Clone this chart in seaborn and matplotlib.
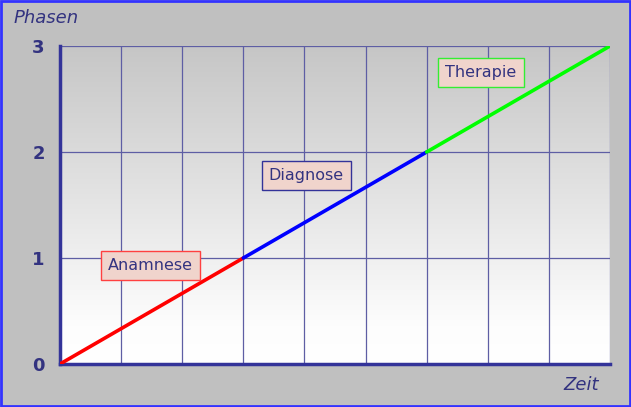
import numpy as np
import pandas as pd
import matplotlib
matplotlib.use("Agg")
import matplotlib.pyplot as plt
import seaborn as sns
from matplotlib.patches import Rectangle

# Phases: start/end time and start/end level
phases = ['Anamnese', 'Diagnose', 'Therapie']
phase_start = [0, 3, 6]
phase_end = [3, 6, 9]
level_start = [0, 1, 2]
level_end = [1, 2, 3]
phase_colors = ['#ff0000', '#0000ff', '#00ff00']
label_x = [1.48, 4.03, 6.89]
label_y = [0.93, 1.78, 2.75]
yticks = [0, 1, 2, 3]

rows = []
for p, x0, x1, y0, y1 in zip(phases, phase_start, phase_end, level_start, level_end):
    rows.append({'Zeit': x0, 'Phase': y0, 'Abschnitt': p})
    rows.append({'Zeit': x1, 'Phase': y1, 'Abschnitt': p})
df = pd.DataFrame(rows)

sns.set_style("white")
plt.rcParams['font.family'] = ['DejaVu Sans']
axis_col = '#333399'
text_col = '#333380'

fig = plt.figure(figsize=(6.31, 4.07), dpi=100, facecolor='#c0c0c0')
ax = fig.add_axes([60 / 631, 1 - 364 / 407, 550 / 631, 318 / 407])
ax.set_facecolor('#c0c0c0')

# gradient background of plot area (gray at top, white near bottom)
grad = np.linspace(0, 1, 256).reshape(-1, 1)
cmap = matplotlib.colors.LinearSegmentedColormap.from_list(
    'g', [(0, '#ffffff'), (0.12, '#fdfdfd'), (1, '#c6c6c6')])
ax.imshow(grad, extent=[0, 9, 0, 3], origin='lower', aspect='auto', cmap=cmap, zorder=0)

sns.lineplot(data=df, x='Zeit', y='Phase', hue='Abschnitt', palette=phase_colors,
             linewidth=2.6, legend=False, ax=ax, zorder=3)

ax.set_xlim(0, 9)
ax.set_ylim(0, 3)
ax.set_xticks(np.arange(0, 10))
ax.set_yticks(yticks)
ax.grid(True, color='#5e5ea4', linewidth=0.9, zorder=1)
ax.set_axisbelow(True)
ax.set_xticklabels([])
ax.set_yticklabels([str(v) for v in yticks], fontsize=13, fontweight='bold', color=text_col)
ax.tick_params(axis='y', length=0, pad=11)
ax.tick_params(axis='x', length=2, width=1.5, color=axis_col, direction='out')
for side in ['top', 'right']:
    ax.spines[side].set_visible(False)
for side in ['left', 'bottom']:
    ax.spines[side].set_color(axis_col)
    ax.spines[side].set_linewidth(2.5)
ax.set_xlabel('')
ax.set_ylabel('')

edge_cols = ['#ff4040', '#333399', '#33ee33']
for p, lx, ly, ec in zip(phases, label_x, label_y, edge_cols):
    ax.text(lx, ly, p, ha='center', va='center', fontsize=11.5, color=text_col, zorder=5,
            bbox=dict(boxstyle='square,pad=0.45', facecolor='#f0d4cc', edgecolor=ec, linewidth=1))

fig.text(14 / 631, 1 - 18 / 407, 'Phasen', fontsize=13, style='italic', color=text_col, va='center')
fig.text(563 / 631, 1 - 385 / 407, 'Zeit', fontsize=13, style='italic', color=text_col, va='center')

fig.patches.append(Rectangle((0.001, 0.002), 0.997, 0.996, transform=fig.transFigure,
                             fill=False, edgecolor='#3333ff', linewidth=2))

fig.savefig('out.png', dpi=100, facecolor=fig.get_facecolor())
